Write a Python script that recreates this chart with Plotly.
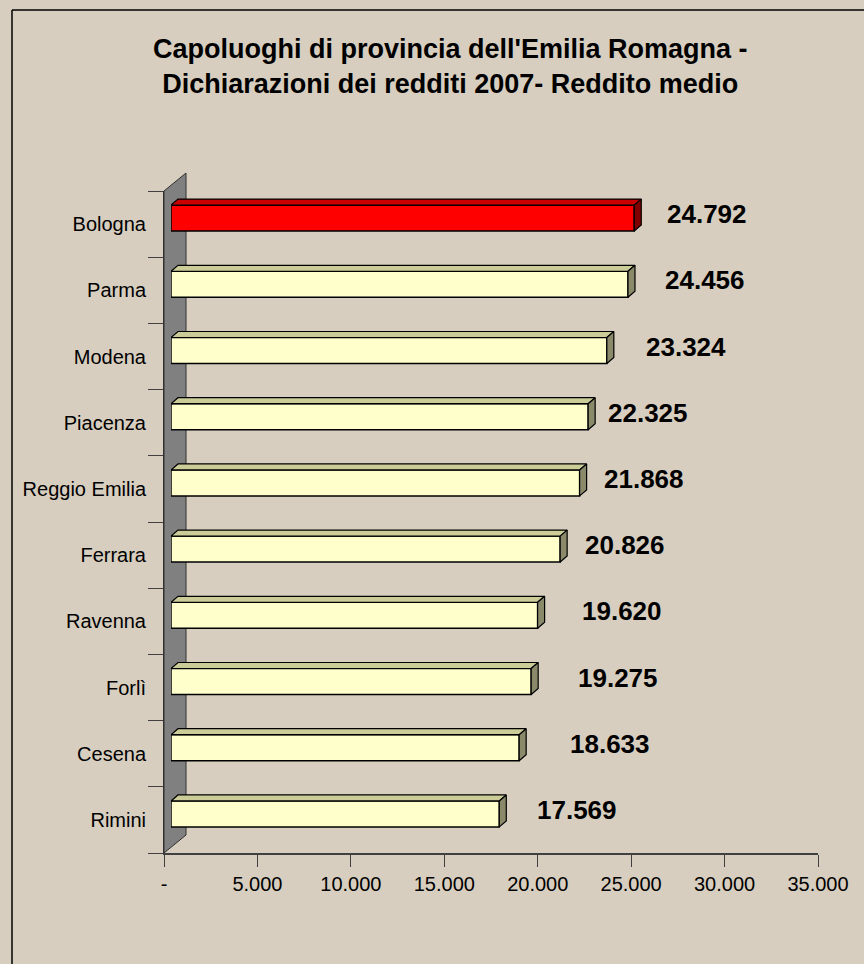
import plotly.graph_objects as go

# ---------------- data ----------------
cities = ["Bologna", "Parma", "Modena", "Piacenza", "Reggio Emilia",
          "Ferrara", "Ravenna", "Forlì", "Cesena", "Rimini"]
reddito_medio = [24792, 24456, 23324, 22325, 21868, 20826, 19620, 19275, 18633, 17569]
highlight = "Bologna"

x_tickvals = [0, 5000, 10000, 15000, 20000, 25000, 30000, 35000]
x_ticktext = ["-", "5.000", "10.000", "15.000", "20.000", "25.000", "30.000", "35.000"]

title_text = ("Capoluoghi di provincia dell'Emilia Romagna -<br>"
              "Dichiarazioni dei redditi 2007- Reddito medio")

# ---------------- layout constants (pixels) ----------------
W, H = 864, 964
AX_L, AX_R, AX_T, AX_B = 164, 818, 191, 853   # front plane of the plot area
DX, DY = 7, 6                                 # depth offset of the bars
WALL_DX, WALL_DY = 22, 18                     # depth of the side wall
XMAX = 35000
FONT = "Liberation Sans, Arial, sans-serif"
BG = "#d7cebf"
# value labels were hand placed in the original, small per-label nudges
LABEL_SHIFT = 34
LABEL_NUDGE = [-3, 1, 3, -16, -12, -11, 8, 11, 15, 2]


def fx(p):
    return p / W


def fy(p):
    return 1 - p / H


n = len(cities)
idx = list(range(n))
x_per_px = XMAX / (AX_R - AX_L)
y_per_px = n / (AX_B - AX_T)
ddx, ddy = DX * x_per_px, DY * y_per_px
half = 0.196

front_cols = ["#ff0000" if c == highlight else "#ffffcc" for c in cities]

fig = go.Figure()

# front faces
fig.add_trace(go.Bar(
    x=reddito_medio, y=idx, orientation="h", width=2 * half,
    marker={"color": front_cols, "line": {"color": "black", "width": 1.5}},
    xaxis="x2", yaxis="y2", hoverinfo="skip", showlegend=False,
))

# top and side faces (3d look)
faces = {}
for i, (c, v) in enumerate(zip(cities, reddito_medio)):
    key = "red" if c == highlight else "cream"
    y0 = i - half
    y1 = i + half
    top = ([0, v, v + ddx, ddx, 0], [y0, y0, y0 - ddy, y0 - ddy, y0])
    side = ([v, v + ddx, v + ddx, v, v], [y0, y0 - ddy, y1 - ddy, y1, y0])
    for name, poly in (("top", top), ("side", side)):
        xs, ys = faces.setdefault((key, name), ([], []))
        xs.extend(poly[0] + [None])
        ys.extend(poly[1] + [None])

face_cols = {
    ("red", "top"): "#c80000", ("red", "side"): "#800000",
    ("cream", "top"): "#cccc99", ("cream", "side"): "#8a8a6a",
}
for k, (xs, ys) in faces.items():
    fig.add_trace(go.Scatter(
        x=xs, y=ys, mode="lines", fill="toself", fillcolor=face_cols[k],
        line={"color": "black", "width": 1.2},
        xaxis="x2", yaxis="y2", hoverinfo="skip", showlegend=False,
    ))

# invisible trace holding the visible (front) axes
fig.add_trace(go.Scatter(
    x=reddito_medio, y=idx, mode="markers", marker={"opacity": 0},
    hoverinfo="skip", showlegend=False,
))

# value labels
for i, v in enumerate(reddito_medio):
    fig.add_annotation(
        x=v, y=i, xref="x2", yref="y2", xanchor="left", yanchor="middle",
        text=f"<b>{v:,}</b>".replace(",", "."), showarrow=False,
        xshift=LABEL_SHIFT + LABEL_NUDGE[i], yshift=4,
        font={"family": FONT, "size": 26, "color": "black"},
    )

# title
fig.add_annotation(
    x=fx(450), y=fy(67), xref="paper", yref="paper",
    xanchor="center", yanchor="middle", align="center",
    text=f"<b>{title_text}</b>", showarrow=False,
    font={"family": FONT, "size": 27, "color": "black"},
)

# gray side wall
wall = (f"M {fx(AX_L)} {fy(AX_T)} L {fx(AX_L + WALL_DX)} {fy(AX_T - WALL_DY)} "
        f"L {fx(AX_L + WALL_DX)} {fy(AX_B - WALL_DY)} L {fx(AX_L)} {fy(AX_B)} Z")
fig.add_shape(type="path", path=wall, xref="paper", yref="paper",
              fillcolor="#808080", line={"color": "#303030", "width": 1},
              layer="below")

# chart border (only left and top edges are inside the picture)
fig.add_shape(type="line", xref="paper", yref="paper",
              x0=fx(12), x1=fx(12), y0=0, y1=fy(10),
              line={"color": "black", "width": 1.5}, layer="below")
fig.add_shape(type="line", xref="paper", yref="paper",
              x0=fx(12), x1=1, y0=fy(10), y1=fy(10),
              line={"color": "black", "width": 1.5}, layer="below")

axis_common = {"showgrid": False, "zeroline": False, "automargin": False}
fig.update_layout(
    width=W, height=H, autosize=False,
    margin={"l": 0, "r": 0, "t": 0, "b": 0, "pad": 0, "autoexpand": False},
    paper_bgcolor=BG, plot_bgcolor="rgba(0,0,0,0)",
    font={"family": FONT, "size": 20, "color": "black"},
    showlegend=False,
    xaxis={**axis_common,
           "domain": [fx(AX_L), fx(AX_R)], "range": [0, XMAX], "anchor": "y",
           "tickvals": x_tickvals, "ticktext": x_ticktext,
           "ticks": "outside", "ticklen": 12, "tickcolor": "#404040",
           "showline": True, "linecolor": "#404040", "linewidth": 1.5,
           "tickfont": {"size": 20}},
    yaxis={**axis_common,
           "domain": [fy(AX_B), fy(AX_T)], "range": [n - 0.5, -0.5], "anchor": "x",
           "tickvals": idx, "ticktext": cities,
           "ticks": "outside", "ticklen": 13, "tickcolor": "rgba(0,0,0,0)",
           "minor": {"tickvals": [i - 0.5 for i in range(n + 1)],
                     "ticks": "outside", "ticklen": 15, "tickcolor": "#404040"},
           "showline": True, "linecolor": "#303030", "linewidth": 1,
           "tickfont": {"size": 20}},
    xaxis2={**axis_common,
            "domain": [fx(AX_L + DX), fx(AX_R + DX)], "range": [0, XMAX],
            "anchor": "y2", "visible": False},
    yaxis2={**axis_common,
            "domain": [fy(AX_B - DY), fy(AX_T - DY)], "range": [n - 0.5, -0.5],
            "anchor": "x2", "visible": False},
)

fig.write_html(
    "out.html",
    config={"responsive": False, "displayModeBar": False},
    post_script="document.body.style.margin='0';document.body.style.overflow='hidden';",
)
